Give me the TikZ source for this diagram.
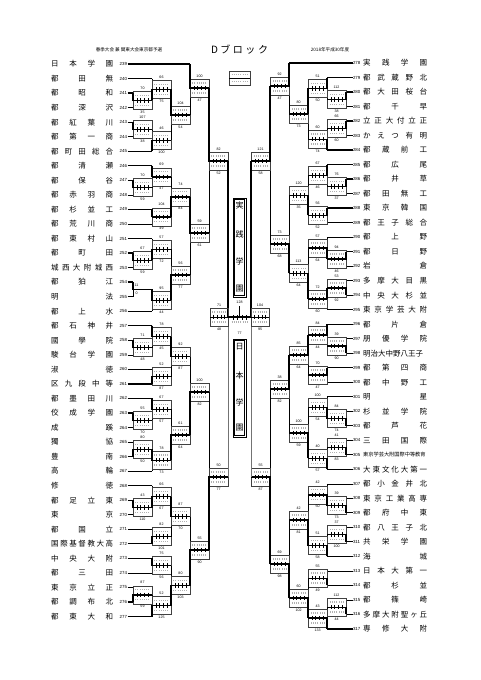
\documentclass[tikz,border=0pt]{standalone}
\usepackage{fontspec}
\setmainfont{Noto Sans CJK JP}
\newfontfamily\lat{Liberation Sans}
\newcommand\spr[2]{\makebox[#1][s]{\spaceskip=0pt plus 1fil\xspaceskip=0pt plus 1fil #2}}
\tikzset{
 ln/.style={line width=0.45pt},
 win/.style={line width=1.35pt},
 bx/.style={line width=0.3pt, black!75},
 tk/.style={line width=0.3pt},
 sr/.style={line width=1.5pt, black!30, dash pattern=on 0.8pt off 1.4pt},
 lab/.style={inner sep=0pt, font=\lat\fontsize{3.6}{4}\selectfont},
 numL/.style={anchor=east, inner sep=0.3pt, font=\lat\fontsize{4.4}{5}\selectfont},
 numR/.style={anchor=west, inner sep=0.3pt, font=\lat\fontsize{4.4}{5}\selectfont},
 nm/.style={anchor=west, inner sep=0pt, font=\fontsize{7.5}{8}\selectfont},
}
\newcommand\tL[5]{%
 \node[numL] (n#1) at (127.5,#2) {#1};
 \node[nm] (s#1) at (51,#2) {\spr{62pt}{#5}};
 \draw[#4] (n#1.east) -- (#3,#2);
}
\newcommand\tR[5]{%
 \node[numR] (n#1) at (352.5,#2) {#1};
 \node[nm] (s#1) at (363,#2) {\spr{64pt}{#5}};
 \draw[#4] (n#1.west) -- (#3,#2);
}
\newcommand\mt[8]{%
 \draw[ln] (#1,#3) -- (#1,#4);
 \draw[bx] (#1,#5-9) rectangle (#2,#5+9);
 \draw[sr] ({#1+(#2-#1)*0.12},#5-5) -- ({#1+(#2-#1)*0.88},#5-5);
 \draw[sr] ({#1+(#2-#1)*0.12},#5+5) -- ({#1+(#2-#1)*0.88},#5+5);
 \draw[tk] (#1,#5) -- (#2,#5);
 \ifcase#8\relax\or\draw[win] (#1,#3) -- (#1,#5) -- (#2,#5);\or\draw[win] (#1,#4) -- (#1,#5) -- (#2,#5);\fi
 \foreach \f in {0.2,0.4,0.6,0.8} \draw[tk] ({#1+(#2-#1)*\f},#5-2.2) -- ++(0,4.4);
 \node[lab] at ({(#1+#2)/2},#5-12) {#6};
 \node[lab] at ({(#1+#2)/2},#5+12) {#7};
}
\newcommand\sfb[5]{%
 \draw[bx] (#1,#3-9) rectangle (#2,#3+9);
 \draw[sr] ({#1+(#2-#1)*0.12},#3-5) -- ({#1+(#2-#1)*0.88},#3-5);
 \draw[sr] ({#1+(#2-#1)*0.12},#3+5) -- ({#1+(#2-#1)*0.88},#3+5);
 \draw[tk] (#1,#3) -- (#2,#3);
 \foreach \f in {0.2,0.4,0.6,0.8} \draw[tk] ({#1+(#2-#1)*\f},#3-2.2) -- ++(0,4.4);
 \node[lab] at ({(#1+#2)/2},#3-12) {#4};
 \node[lab] at ({(#1+#2)/2},#3+12) {#5};
}
\begin{document}
\begin{tikzpicture}[x=1pt,y=-1pt]
\fill[white] (0,0) rectangle (481,680);
\useasboundingbox (0,0) rectangle (481,680);
% header
\node[font=\fontsize{4.6}{5}\selectfont] (h1) at (129,50) {春季大会\ 兼\ 関東大会東京都予選};
\node[font=\fontsize{10}{10}\selectfont] (h2) at (239.5,50) {\spr{57pt}{D ブ ロ ッ ク}};
\node[font=\fontsize{4.6}{5}\selectfont] (h3) at (330,50) {2018年平成30年度};
% legend
\draw[bx] (229,71) rectangle (250,85);
\draw[sr] (231.5,74.5) -- (247.5,74.5);
\draw[sr] (231.5,81.5) -- (247.5,81.5);
\draw[tk] (229,78) -- (250,78);
% left teams
\tL{239}{64.0}{190}{win}{日 本 学 園}
\tL{240}{78.5}{152}{ln}{都 田 無}
\tL{241}{93.1}{133}{win}{都 昭 和}
\tL{242}{107.6}{133}{ln}{都 深 沢}
\tL{243}{122.2}{133}{win}{都 紅 葉 川}
\tL{244}{136.7}{133}{ln}{都 第 一 商}
\tL{245}{151.2}{152}{win}{都 町 田 総 合}
\tL{246}{165.8}{152}{win}{都 清 瀬}
\tL{247}{180.3}{133}{win}{都 保 谷}
\tL{248}{194.9}{133}{ln}{都 赤 羽 商}
\tL{249}{209.4}{152}{win}{都 杉 並 工}
\tL{250}{223.9}{152}{ln}{都 荒 川 商}
\tL{251}{238.5}{152}{ln}{都 東 村 山}
\tL{252}{253.0}{133}{win}{都 町 田}
\tL{253}{267.6}{133}{ln}{城 西 大 附 城 西}
\tL{254}{282.1}{133}{win}{都 狛 江}
\tL{255}{296.6}{133}{ln}{明 法}
\tL{256}{311.2}{152}{ln}{都 上 水}
\tL{257}{325.7}{152}{win}{都 石 神 井}
\tL{258}{340.3}{133}{win}{國 學 院}
\tL{259}{354.8}{133}{ln}{駿 台 学 園}
\tL{260}{369.3}{152}{ln}{淑 徳}
\tL{261}{383.9}{152}{win}{区 九 段 中 等}
\tL{262}{398.4}{152}{win}{都 墨 田 川}
\tL{263}{413.0}{133}{win}{佼 成 学 園}
\tL{264}{427.5}{133}{ln}{成 蹊}
\tL{265}{442.0}{133}{ln}{獨 協}
\tL{266}{456.6}{133}{win}{豊 南}
\tL{267}{471.1}{152}{ln}{高 輪}
\tL{268}{485.7}{152}{ln}{修 徳}
\tL{269}{500.2}{133}{win}{都 足 立 東}
\tL{270}{514.7}{133}{ln}{東 京}
\tL{271}{529.3}{152}{ln}{都 国 立}
\tL{272}{543.8}{152}{win}{国 際 基 督 教 大 高}
\tL{273}{558.4}{152}{win}{中 央 大 附}
\tL{274}{572.9}{152}{ln}{都 三 田}
\tL{275}{587.4}{133}{ln}{東 京 立 正}
\tL{276}{602.0}{133}{win}{都 調 布 北}
\tL{277}{616.5}{152}{win}{都 東 大 和}
% right teams
\tR{278}{63.0}{289}{win}{実 践 学 園}
\tR{279}{77.5}{327}{win}{都 武 蔵 野 北}
\tR{280}{92.0}{346}{win}{都 大 田 桜 台}
\tR{281}{106.5}{346}{ln}{都 千 早}
\tR{282}{121.0}{346}{win}{立 正 大 付 立 正}
\tR{283}{135.6}{346}{ln}{か え つ 有 明}
\tR{284}{150.1}{327}{win}{都 蔵 前 工}
\tR{285}{164.6}{327}{win}{都 広 尾}
\tR{286}{179.1}{346}{win}{都 井 草}
\tR{287}{193.6}{346}{ln}{都 田 無 工}
\tR{288}{208.1}{327}{win}{東 京 韓 国}
\tR{289}{222.6}{327}{ln}{都 王 子 総 合}
\tR{290}{237.1}{327}{ln}{都 上 野}
\tR{291}{251.6}{346}{win}{都 日 野}
\tR{292}{266.1}{346}{ln}{岩 倉}
\tR{293}{280.7}{346}{ln}{多 摩 大 目 黒}
\tR{294}{295.2}{346}{win}{中 央 大 杉 並}
\tR{295}{309.7}{327}{ln}{東 京 学 芸 大 附}
\tR{296}{324.2}{327}{win}{都 片 倉}
\tR{297}{338.7}{346}{ln}{朋 優 学 院}
\tR{298}{353.2}{346}{win}{明治大中野八王子}
\tR{299}{367.7}{327}{win}{都 第 四 商}
\tR{300}{382.2}{327}{ln}{都 中 野 工}
\tR{301}{396.7}{327}{ln}{明 星}
\tR{302}{411.2}{346}{ln}{杉 並 学 院}
\tR{303}{425.8}{346}{win}{都 芦 花}
\tR{304}{440.3}{346}{ln}{三 田 国 際}
\node[numR] (n305) at (352.5,454.8) {305};
\node[nm,font=\fontsize{5.2}{6}\selectfont] (s305) at (363,454.8) {東京学芸大附国際中等教育};
\draw[win] (n305.west) -- (346,454.8);
\tR{306}{469.3}{327}{win}{大 東 文 化 大 第 一}
\tR{307}{483.8}{327}{ln}{都 小 金 井 北}
\tR{308}{498.3}{346}{ln}{東 京 工 業 高 専}
\tR{309}{512.8}{346}{win}{都 府 中 東}
\tR{310}{527.3}{346}{ln}{都 八 王 子 北}
\tR{311}{541.8}{346}{win}{共 栄 学 園}
\tR{312}{556.3}{327}{win}{海 城}
\tR{313}{570.9}{327}{ln}{日 本 大 第 一}
\tR{314}{585.4}{327}{win}{都 杉 並}
\tR{315}{599.9}{346}{ln}{都 篠 崎}
\tR{316}{614.4}{346}{win}{多 摩 大 附 聖 ヶ 丘}
\tR{317}{628.9}{327}{win}{専 修 大 附}
% left round 1
\mt{133}{152}{93.1}{107.6}{100.3}{70}{35}{1}
\mt{133}{152}{122.2}{136.7}{129.5}{107}{38}{1}
\mt{133}{152}{180.3}{194.9}{187.6}{70}{59}{1}
\mt{133}{152}{253.0}{267.6}{260.3}{67}{59}{1}
\draw[ln] (133,282.1) -- (133,296.6);
\draw[win] (133,282.1) -- (133,289.4) -- (152,289.4);
\node[lab] at (136.5,285.3) {11};
\node[lab] at (136.5,293.6) {0};
\mt{133}{152}{340.3}{354.8}{347.6}{71}{48}{1}
\mt{133}{152}{413.0}{427.5}{420.3}{55}{70}{1}
\mt{133}{152}{442.0}{456.6}{449.3}{80}{50}{2}
\mt{133}{152}{500.2}{514.7}{507.5}{43}{110}{1}
\mt{133}{152}{587.4}{602.0}{594.7}{87}{59}{2}
% left round 2
\mt{152}{171}{78.5}{100.3}{89.4}{66}{75}{2}
\mt{152}{171}{129.5}{151.2}{140.4}{46}{100}{2}
\mt{152}{171}{165.8}{187.6}{176.7}{69}{47}{1}
\mt{152}{171}{209.4}{223.9}{216.7}{104}{49}{1}
\mt{152}{171}{238.5}{260.3}{249.4}{57}{72}{2}
\mt{152}{171}{289.4}{311.2}{300.3}{95}{44}{1}
\mt{152}{171}{325.7}{347.6}{336.6}{78}{45}{1}
\mt{152}{171}{369.3}{383.9}{376.6}{52}{87}{2}
\mt{152}{171}{398.4}{420.3}{409.3}{67}{57}{1}
\mt{152}{171}{449.3}{471.1}{460.2}{78}{73}{1}
\mt{152}{171}{485.7}{507.5}{496.6}{66}{67}{2}
\mt{152}{171}{529.3}{543.8}{536.5}{82}{101}{2}
\mt{152}{171}{558.4}{572.9}{565.6}{75}{56}{1}
\mt{152}{171}{594.7}{616.5}{605.6}{52}{125}{2}
% left round 3
\mt{171}{190}{89.4}{140.4}{114.9}{104}{54}{1}
\mt{171}{190}{176.7}{216.7}{196.7}{74}{84}{2}
\mt{171}{190}{249.4}{300.3}{274.8}{56}{77}{2}
\mt{171}{190}{336.6}{376.6}{356.6}{92}{87}{1}
\mt{171}{190}{409.3}{460.2}{434.8}{61}{64}{2}
\mt{171}{190}{496.6}{536.5}{516.6}{87}{70}{1}
\mt{171}{190}{565.6}{605.6}{585.6}{80}{103}{2}
% left round 4
\mt{190}{209}{64.0}{114.9}{88}{100}{47}{1}
\mt{190}{209}{196.7}{274.8}{233}{59}{61}{1}
\mt{190}{209}{356.6}{434.8}{392}{100}{82}{2}
\mt{190}{209}{516.6}{585.6}{550}{55}{90}{2}
% left round 5
\mt{209}{228}{88}{233}{161}{82}{52}{1}
\mt{209}{228}{392}{550}{477}{50}{77}{2}
% right round 1
\mt{346}{327}{92.0}{106.5}{99.3}{112}{38}{1}
\mt{346}{327}{121.0}{135.6}{128.3}{66}{60}{1}
\mt{346}{327}{179.1}{193.6}{186.4}{76}{37}{1}
\mt{346}{327}{251.6}{266.1}{258.9}{94}{46}{1}
\mt{346}{327}{280.7}{295.2}{288.0}{53}{92}{2}
\mt{346}{327}{338.7}{353.2}{346.0}{39}{90}{2}
\mt{346}{327}{411.2}{425.8}{418.5}{84}{74}{2}
\mt{346}{327}{440.3}{454.8}{447.5}{41}{83}{2}
\mt{346}{327}{498.3}{512.8}{505.5}{39}{73}{2}
\mt{346}{327}{527.3}{541.8}{534.6}{37}{100}{2}
\mt{346}{327}{599.9}{614.4}{607.2}{112}{44}{2}
% right round 2
\mt{327}{308}{77.5}{99.3}{88.4}{51}{50}{1}
\mt{327}{308}{128.3}{150.1}{139.2}{60}{74}{2}
\mt{327}{308}{164.6}{186.4}{175.5}{67}{46}{1}
\mt{327}{308}{208.1}{222.6}{215.4}{56}{52}{1}
\mt{327}{308}{237.1}{258.9}{248.0}{57}{64}{2}
\mt{327}{308}{288.0}{309.7}{298.8}{72}{60}{1}
\mt{327}{308}{324.2}{346.0}{335.1}{84}{44}{1}
\mt{327}{308}{367.7}{382.2}{375.0}{70}{47}{1}
\mt{327}{308}{396.7}{418.5}{407.6}{100}{54}{2}
\mt{327}{308}{447.5}{469.3}{458.4}{40}{57}{2}
\mt{327}{308}{483.8}{505.5}{494.7}{42}{50}{2}
\mt{327}{308}{534.6}{556.3}{545.5}{51}{58}{2}
\mt{327}{308}{570.9}{585.4}{578.2}{55}{49}{2}
\mt{327}{308}{607.2}{628.9}{618.0}{43}{133}{2}
% right round 3
\mt{308}{289}{88.4}{139.2}{113.8}{80}{73}{1}
\mt{308}{289}{175.5}{215.4}{195.5}{120}{35}{2}
\mt{308}{289}{248.0}{298.8}{273.4}{113}{64}{2}
\mt{308}{289}{335.1}{375.0}{355.0}{85}{64}{1}
\mt{308}{289}{407.6}{458.4}{433.0}{100}{59}{2}
\mt{308}{289}{494.7}{545.5}{520.1}{42}{81}{2}
\mt{308}{289}{578.2}{618.0}{598.1}{60}{102}{2}
% right round 4
\mt{289}{270}{63.0}{113.8}{86}{92}{47}{1}
\mt{289}{270}{195.5}{273.4}{244}{73}{68}{2}
\mt{289}{270}{355.0}{433.0}{389}{38}{82}{1}
\mt{289}{270}{520.1}{598.1}{564}{69}{98}{2}
% right round 5
\mt{270}{251}{86}{244}{161}{121}{58}{1}
\mt{270}{251}{389}{564}{477}{55}{87}{2}
% semifinals and final
\draw[ln, black!55] (228,317) -- (228,477);
\draw[ln, black!55] (251,317) -- (251,477);
\draw[win] (228,161) -- (228,317);
\draw[win] (251,161) -- (251,317);
\sfb{210}{228}{317}{71}{48}
\sfb{251}{269}{317}{104}{95}
\draw[sr] (231.5,322) -- (247.5,322);
\draw[win] (228,317) -- (251,317);
\draw[win] (239.5,306) -- (239.5,317);
\foreach \xx in {233,237,242,246} \draw[tk] (\xx,315) -- (\xx,320);
\node[lab] (fin1) at (239.5,302) {128};
\node[lab] (fin2) at (239.5,333) {77};
% champion / runner-up
\draw[line width=0.6pt] (233,198) rectangle (246,297);
\draw[line width=0.4pt] (234.5,199.5) rectangle (244.5,295.5);
\node[font=\fontsize{8}{8}\selectfont] (c1) at (239.5,205) {実};
\node[font=\fontsize{8}{8}\selectfont] (c2) at (239.5,234) {践};
\node[font=\fontsize{8}{8}\selectfont] (c3) at (239.5,261) {学};
\node[font=\fontsize{8}{8}\selectfont] (c4) at (239.5,289) {園};
\draw[line width=0.6pt] (233,339) rectangle (246,437);
\draw[line width=0.4pt] (234.5,340.5) rectangle (244.5,435.5);
\node[font=\fontsize{8}{8}\selectfont] (d1) at (239.5,347) {日};
\node[font=\fontsize{8}{8}\selectfont] (d2) at (239.5,375) {本};
\node[font=\fontsize{8}{8}\selectfont] (d3) at (239.5,402) {学};
\node[font=\fontsize{8}{8}\selectfont] (d4) at (239.5,428) {園};
\end{tikzpicture}
\end{document}
